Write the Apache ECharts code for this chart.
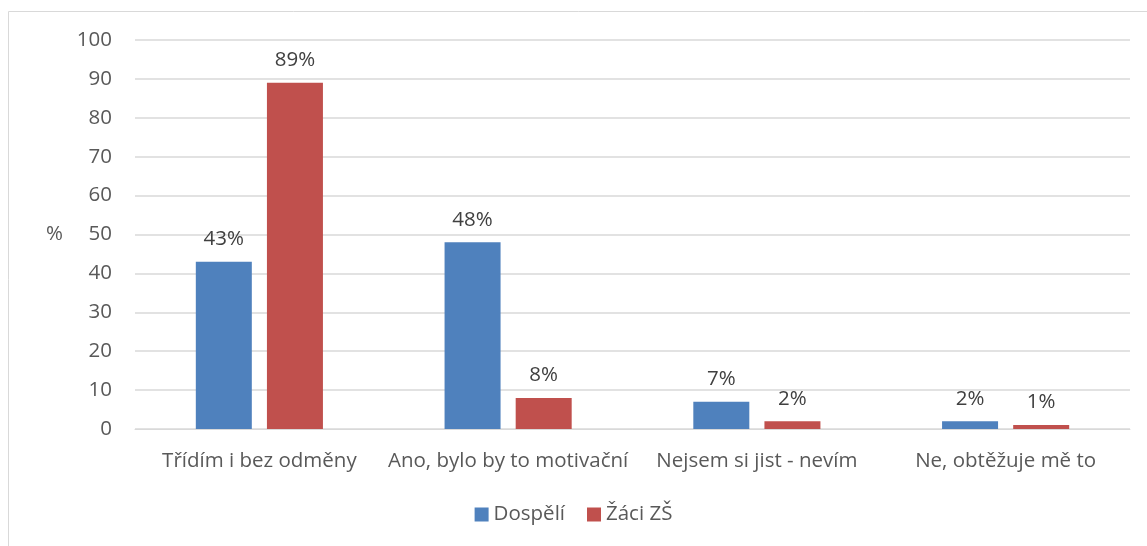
<!DOCTYPE html>
<html><head><meta charset="utf-8">
<script src="https://cdn.jsdelivr.net/npm/echarts@6/dist/echarts.min.js"></script>
<style>html,body{margin:0;padding:0;background:#fff}#c{width:1147px;height:546px}</style>
</head><body><div id="c"></div>
<script>
const categories = ["Třídím i bez odměny", "Ano, bylo by to motivační", "Nejsem si jist - nevím", "Ne, obtěžuje mě to"];
const dospeli = [43, 48, 7, 2];
const zaci = [89, 8, 2, 1];
const seriesNames = ["Dospělí", "Žáci ZŠ"];
const yTicks = {min: 0, max: 100, interval: 10};

const font = "'Open Sans', 'Liberation Sans', sans-serif";
const fs = 20.5;
const chart = echarts.init(document.getElementById('c'));
const lbl = {show: true, position: 'top', distance: 12, formatter: '{c}%', color: '#404040', fontSize: fs, fontFamily: font};
chart.setOption({
  animation: false,
  textStyle: {fontFamily: font},
  graphic: [{type: 'rect', shape: {x: 8.5, y: 11.5, width: 1200, height: 600}, style: {fill: 'none', stroke: '#d9d9d9', lineWidth: 1}, silent: true}],
  grid: {left: 135, right: 17, top: 40, bottom: 117},
  legend: {bottom: 16, left: 'center', itemWidth: 14, itemHeight: 14, itemGap: 22, icon: 'rect',
    textStyle: {fontSize: fs, color: '#595959', fontFamily: font}, data: seriesNames},
  xAxis: {type: 'category', data: categories,
    axisLine: {lineStyle: {color: '#d9d9d9', width: 1}}, axisTick: {show: false},
    axisLabel: {fontSize: fs, color: '#595959', margin: 22, interval: 0, fontFamily: font}},
  yAxis: {type: 'value', min: yTicks.min, max: yTicks.max, interval: yTicks.interval,
    name: '%', nameLocation: 'middle', nameGap: 72, nameRotate: 0,
    nameTextStyle: {fontSize: fs, color: '#595959', fontFamily: font},
    axisLine: {show: false}, axisTick: {show: false},
    splitLine: {lineStyle: {color: '#d9d9d9', width: 1.5}},
    axisLabel: {fontSize: fs, color: '#595959', margin: 23, fontFamily: font}},
  series: [
    {name: seriesNames[0], type: 'bar', data: dospeli, barWidth: 56, barGap: '27%', itemStyle: {color: '#4f81bd'}, label: lbl},
    {name: seriesNames[1], type: 'bar', data: zaci, barWidth: 56, itemStyle: {color: '#c0504d'}, label: lbl}
  ]
});
</script></body></html>
